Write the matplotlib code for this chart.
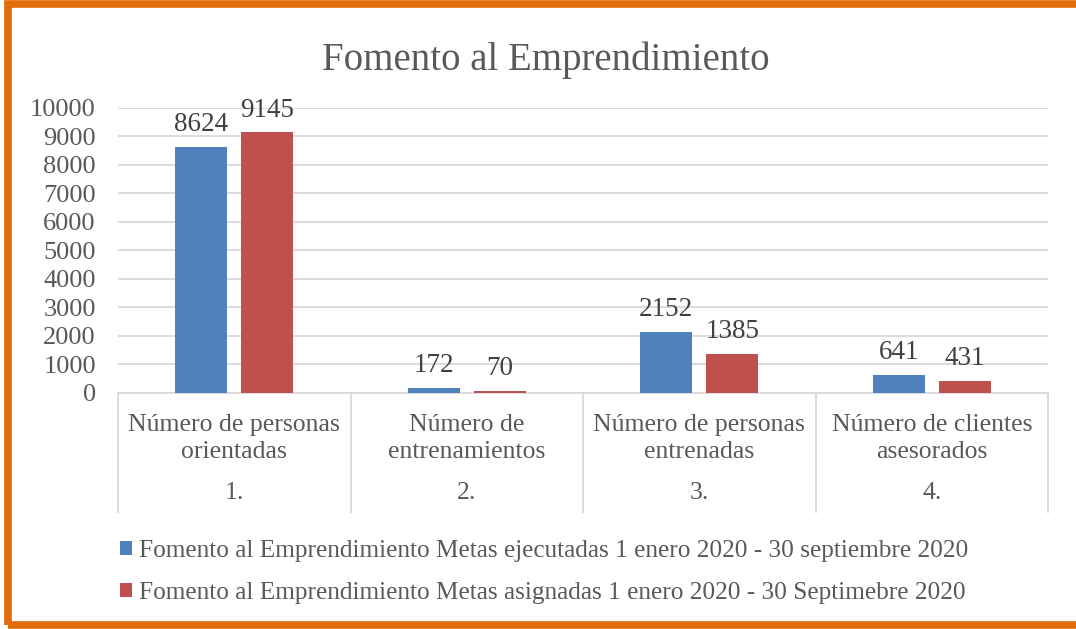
import numpy as np
import matplotlib.pyplot as plt
from matplotlib.patches import Rectangle
from matplotlib.transforms import blended_transform_factory

# data
categories = ['Número de personas\norientadas', 'Número de\nentrenamientos',
              'Número de personas\nentrenadas', 'Número de clientes\nasesorados']
numbers = ['1.', '2.', '3.', '4.']
ejecutadas = [8624, 172, 2152, 641]
asignadas = [9145, 70, 1385, 431]
labels = ['Fomento al Emprendimiento Metas ejecutadas 1 enero 2020 - 30 septiembre 2020',
          'Fomento al Emprendimiento Metas asignadas 1 enero 2020 - 30 Septimebre 2020']

blue = '#4F81BD'
red = '#C0504D'
txt = '#595959'
grid = '#D9D9D9'
plt.rcParams['font.family'] = ['Liberation Serif', 'DejaVu Serif']

fig = plt.figure(figsize=(10.76, 6.29), dpi=100)
ax = fig.add_axes([0.1097, 0.3752, 0.8643, 0.4531])

x = np.arange(len(categories))
w = 0.224
b1 = ax.bar(x - 0.142, ejecutadas, w, color=blue, label=labels[0], zorder=3)
b2 = ax.bar(x + 0.142, asignadas, w, color=red, label=labels[1], zorder=3)
for bars in (b1, b2):
    for r in bars:
        ax.annotate(f'{int(r.get_height())}', (r.get_x() + r.get_width() / 2, r.get_height()),
                    xytext=(0, 7), textcoords='offset points', ha='center', va='bottom',
                    fontsize=19.5, color='#404040')

ax.set_xlim(-0.5, 3.5)
ax.set_ylim(0, 10000)
ax.set_yticks(np.arange(0, 10001, 1000))
ax.tick_params(axis='y', length=0, labelsize=19, labelcolor=txt, pad=16)
ax.set_xticks([])
ax.yaxis.grid(True, color=grid, linewidth=1.3, zorder=0)
for s in ['top', 'right', 'left']:
    ax.spines[s].set_visible(False)
ax.spines['bottom'].set_color(grid)
ax.spines['bottom'].set_linewidth(1.3)

# category table below axis
tr = blended_transform_factory(ax.transData, ax.transAxes)
for xv in np.arange(-0.5, 4, 1):
    ax.plot([xv, xv], [0, -0.4175], transform=tr, color=grid, lw=1.3, clip_on=False)
for i in x:
    ax.text(i, -0.16, categories[i], transform=tr, ha='center', va='center',
            fontsize=18.5, color=txt, linespacing=1.25)
    ax.text(i, -0.351, numbers[i], transform=tr, ha='center', va='center',
            fontsize=18.5, color=txt)

fig.text(0.507, 0.905, 'Fomento al Emprendimiento', ha='center', va='center',
         fontsize=28, color=txt)

leg = fig.legend(handles=[b1, b2], loc='upper left', bbox_to_anchor=(0.090, 0.178),
                 frameon=False, fontsize=18.2, labelcolor=txt, handlelength=0.5,
                 handleheight=0.5, handletextpad=0.25, labelspacing=0.8)

# orange border
fig.patches.append(Rectangle((8 / 1076, 4 / 629), 1.2, 621 / 629, transform=fig.transFigure,
                             fill=False, edgecolor='#E36C0A', linewidth=5.5))

fig.savefig('out.png', dpi=100, facecolor='white')
